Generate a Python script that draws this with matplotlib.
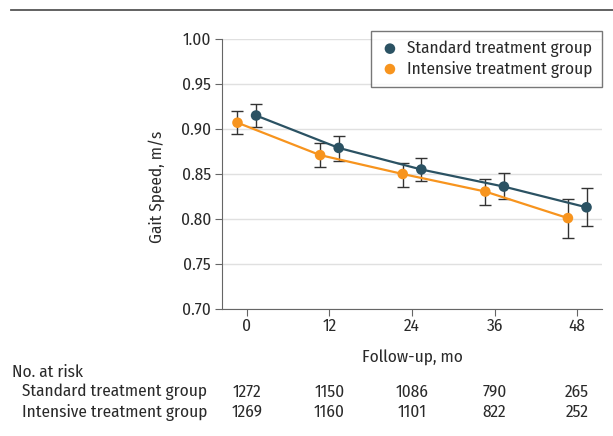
import matplotlib.pyplot as plt
import matplotlib.transforms as mtransforms
import numpy as np

plt.rcParams['font.family'] = ['Fira Sans Condensed', 'DejaVu Sans']
plt.rcParams['font.size'] = 12.4

months = [0, 12, 24, 36, 48]
std_mean = [0.915, 0.879, 0.855, 0.836, 0.813]
std_lo = [0.902, 0.865, 0.842, 0.822, 0.792]
std_hi = [0.928, 0.892, 0.868, 0.851, 0.834]
int_mean = [0.907, 0.871, 0.850, 0.8305, 0.801]
int_lo = [0.894, 0.858, 0.836, 0.816, 0.779]
int_hi = [0.920, 0.884, 0.862, 0.845, 0.822]
risk_std = [1272, 1150, 1086, 790, 265]
risk_int = [1269, 1160, 1101, 822, 252]

c_std = "#2b5263"
c_int = "#f7941e"
txt = "#2a2a2a"
offset = 1.35
fs = 12.4

fig = plt.figure(figsize=(6.13, 4.36), dpi=100)
W, H = 613, 436
ax = fig.add_axes([222 / W, 1 - 309 / H, 380 / W, 270 / H])

x = np.array(months)
for xs, m, lo, hi, c, lab in [(x - offset, int_mean, int_lo, int_hi, c_int, "Intensive treatment group"),
                              (x + offset, std_mean, std_lo, std_hi, c_std, "Standard treatment group")]:
    m = np.array(m)
    err = [m - np.array(lo), np.array(hi) - m]
    ax.errorbar(xs, m, yerr=err, fmt="none", ecolor="#333333", elinewidth=1.0, capsize=4.6, capthick=1.0, zorder=2)
    ax.plot(xs, m, color=c, linewidth=1.6, zorder=3)
    ax.scatter(xs, m, color=c, s=58, zorder=4, label=lab, edgecolors="none")

ax.set_xlim(-3.6, 51.6)
ax.set_ylim(0.70, 1.00)
ax.set_xticks(months)
ax.set_yticks(np.arange(0.70, 1.001, 0.05))
ax.set_yticklabels([f"{v:.2f}" for v in np.arange(0.70, 1.001, 0.05)])
ax.grid(axis="y", color="#e0e0e0", linewidth=1)
ax.set_axisbelow(True)
for s in ["top", "right"]:
    ax.spines[s].set_visible(False)
for s in ["left", "bottom"]:
    ax.spines[s].set_color("#666666")
ax.tick_params(direction="out", length=5, color="#666666", labelcolor=txt, labelsize=fs)
ax.tick_params(axis="y", pad=3)
ax.tick_params(axis="x", pad=2)

ax.set_ylabel("Gait Speed, m/s", fontsize=fs, color=txt)
ax.yaxis.set_label_coords((165 - 222) / 380, (309 - 187) / 270)
ax.set_xlabel("Follow-up, mo", fontsize=fs, color=txt)
ax.xaxis.set_label_coords(0.5, (309 - 350) / 270)

h, l = ax.get_legend_handles_labels()
leg = ax.legend(h[::-1], l[::-1], loc="upper right", bbox_to_anchor=(1.0, (309 - 31) / 270), frameon=True,
                fancybox=False, edgecolor="#555555", fontsize=fs, handletextpad=0.45,
                borderpad=0.55, labelspacing=0.2, handlelength=1.1, borderaxespad=0, scatterpoints=1)
leg.get_frame().set_linewidth(1.0)
for t in leg.get_texts():
    t.set_color(txt)

# header rule
fig.add_artist(plt.Line2D([11 / W, 1], [1 - 10 / H, 1 - 10 / H], color="#555555", linewidth=1.3))

# numbers at risk
fig.text(12 / W, 1 - 372 / H, "No. at risk", ha="left", va="center", color=txt, fontsize=fs)
fig.text(22 / W, 1 - 392 / H, "Standard treatment group", ha="left", va="center", color=txt, fontsize=fs)
fig.text(22 / W, 1 - 412 / H, "Intensive treatment group", ha="left", va="center", color=txt, fontsize=fs)
trans = mtransforms.blended_transform_factory(ax.transData, fig.transFigure)
for mo, a, b in zip(months, risk_std, risk_int):
    fig.text(mo, 1 - 392 / H, str(a), ha="center", va="center", color=txt, fontsize=fs, transform=trans)
    fig.text(mo, 1 - 412 / H, str(b), ha="center", va="center", color=txt, fontsize=fs, transform=trans)

fig.savefig("out.png", dpi=100)
